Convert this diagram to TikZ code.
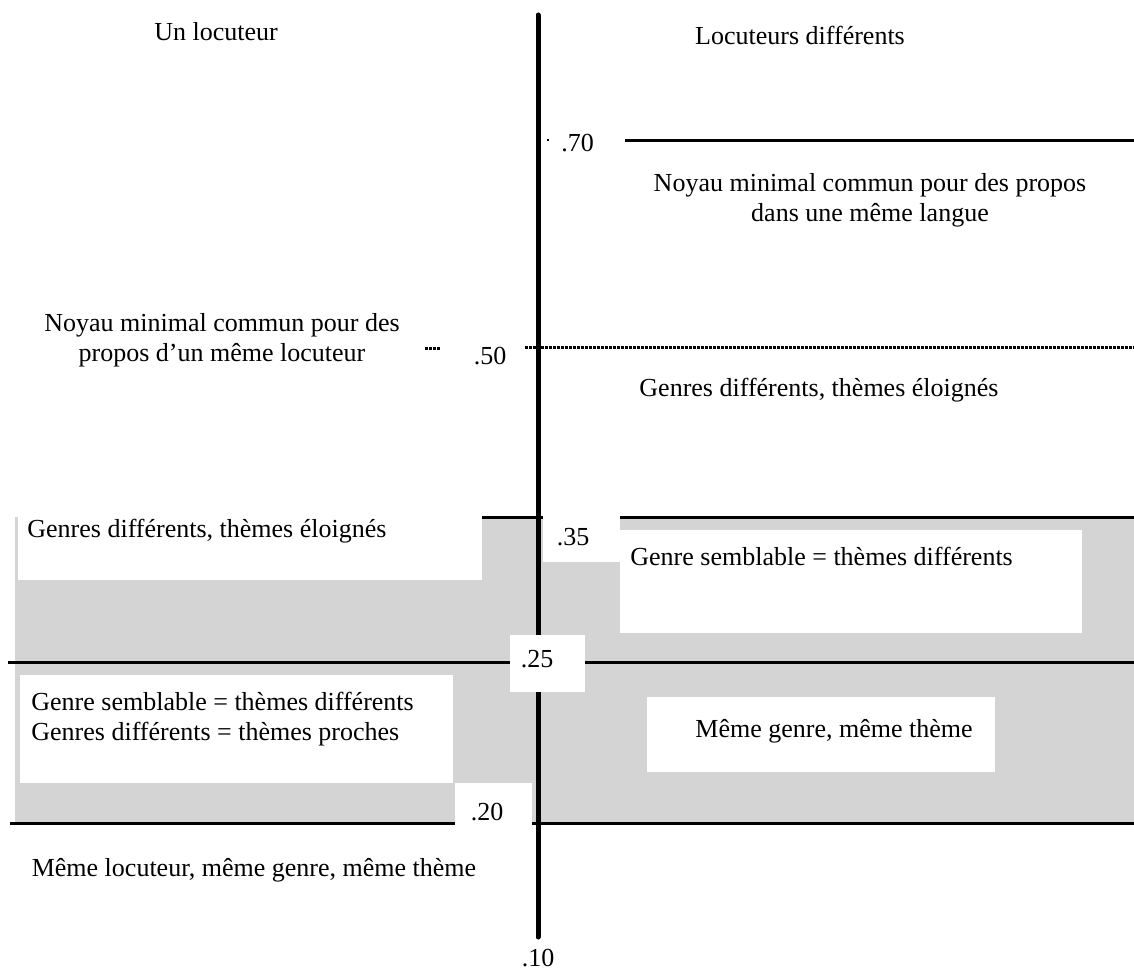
\documentclass[tikz,border=0pt]{standalone}
\usepackage{fontspec}
\setmainfont{Liberation Serif}
\definecolor{bandgray}{RGB}{212,212,212}
\begin{document}
\begin{tikzpicture}[x=0.5pt,y=-0.5pt,
  lbl/.style={inner sep=0pt, font=\fontsize{13}{15}\selectfont},
  whitebox/.style={fill=white, draw=none},
  level/.style={line width=1.5pt},
  dotlevel/.style={line width=1.5pt, dash pattern=on 1.5pt off 0.5pt, black},
  axisline/.style={line width=2.5pt, line cap=round}]
\useasboundingbox (0,0) rectangle (1134,978);
% shaded band
\fill[bandgray] (15,517) rectangle (1134,823);
% white boxes in the band
\fill[whitebox] (18,517) rectangle (482,580);
\fill[whitebox] (543,517) rectangle (620,562);
\fill[whitebox] (620,530) rectangle (1082,633);
\fill[whitebox] (20,675) rectangle (453,783);
\fill[whitebox] (455,783) rectangle (532,823);
\fill[whitebox] (647,697) rectangle (995,772);
% level lines
\draw[level] (625,141) -- (1134,141);
\draw[dotlevel] (525,348) -- (1134,348);
\draw[dotlevel] (425,349) -- (440,349);
\draw[level] (482,517) -- (543,517);
\draw[level] (620,517) -- (1134,517);
\draw[level] (8,662) -- (1134,662);
\draw[level] (10,823) -- (455,823);
\draw[level] (532,823) -- (1134,823);
\fill (547,139) rectangle (549,141);
% axis
\coordinate (axtop) at (538,15);
\coordinate (axbot) at (538,937);
\draw[axisline] (axtop) -- (axbot);
\fill[whitebox] (510,635) rectangle (585,692);
% texts
\node[lbl] (unloc) at (216,32) {Un locuteur};
\node[lbl] (locdiff) at (800,35) {Locuteurs différents};
\node[lbl, anchor=west] (v70) at (561,143) {.70};
\node[lbl, align=center] (noyaulang) at (870,200) {Noyau minimal commun pour des propos\\dans une même langue};
\node[lbl, align=center] (noyauloc) at (222,340) {Noyau minimal commun pour des\\propos d’un même locuteur};
\node[lbl] (v50) at (490,356) {.50};
\node[lbl] (rgenres) at (819,390) {Genres différents, thèmes éloignés};
\node[lbl, anchor=west] (lgenres) at (27,531) {Genres différents, thèmes éloignés};
\node[lbl] (v35) at (573,537) {.35};
\node[lbl, anchor=west] (rsembl) at (630,556) {Genre semblable = thèmes différents};
\node[lbl] (v25) at (537,659) {.25};
\node[lbl, anchor=west, align=left] (lsembl) at (31,719) {Genre semblable = thèmes différents\\Genres différents = thèmes proches};
\node[lbl] (rmeme) at (834,731) {Même genre, même thème};
\node[lbl] (v20) at (487,812) {.20};
\node[lbl] (lmeme) at (254,870) {Même locuteur, même genre, même thème};
\node[lbl] (v10) at (538,958) {.10};
\end{tikzpicture}
\end{document}
